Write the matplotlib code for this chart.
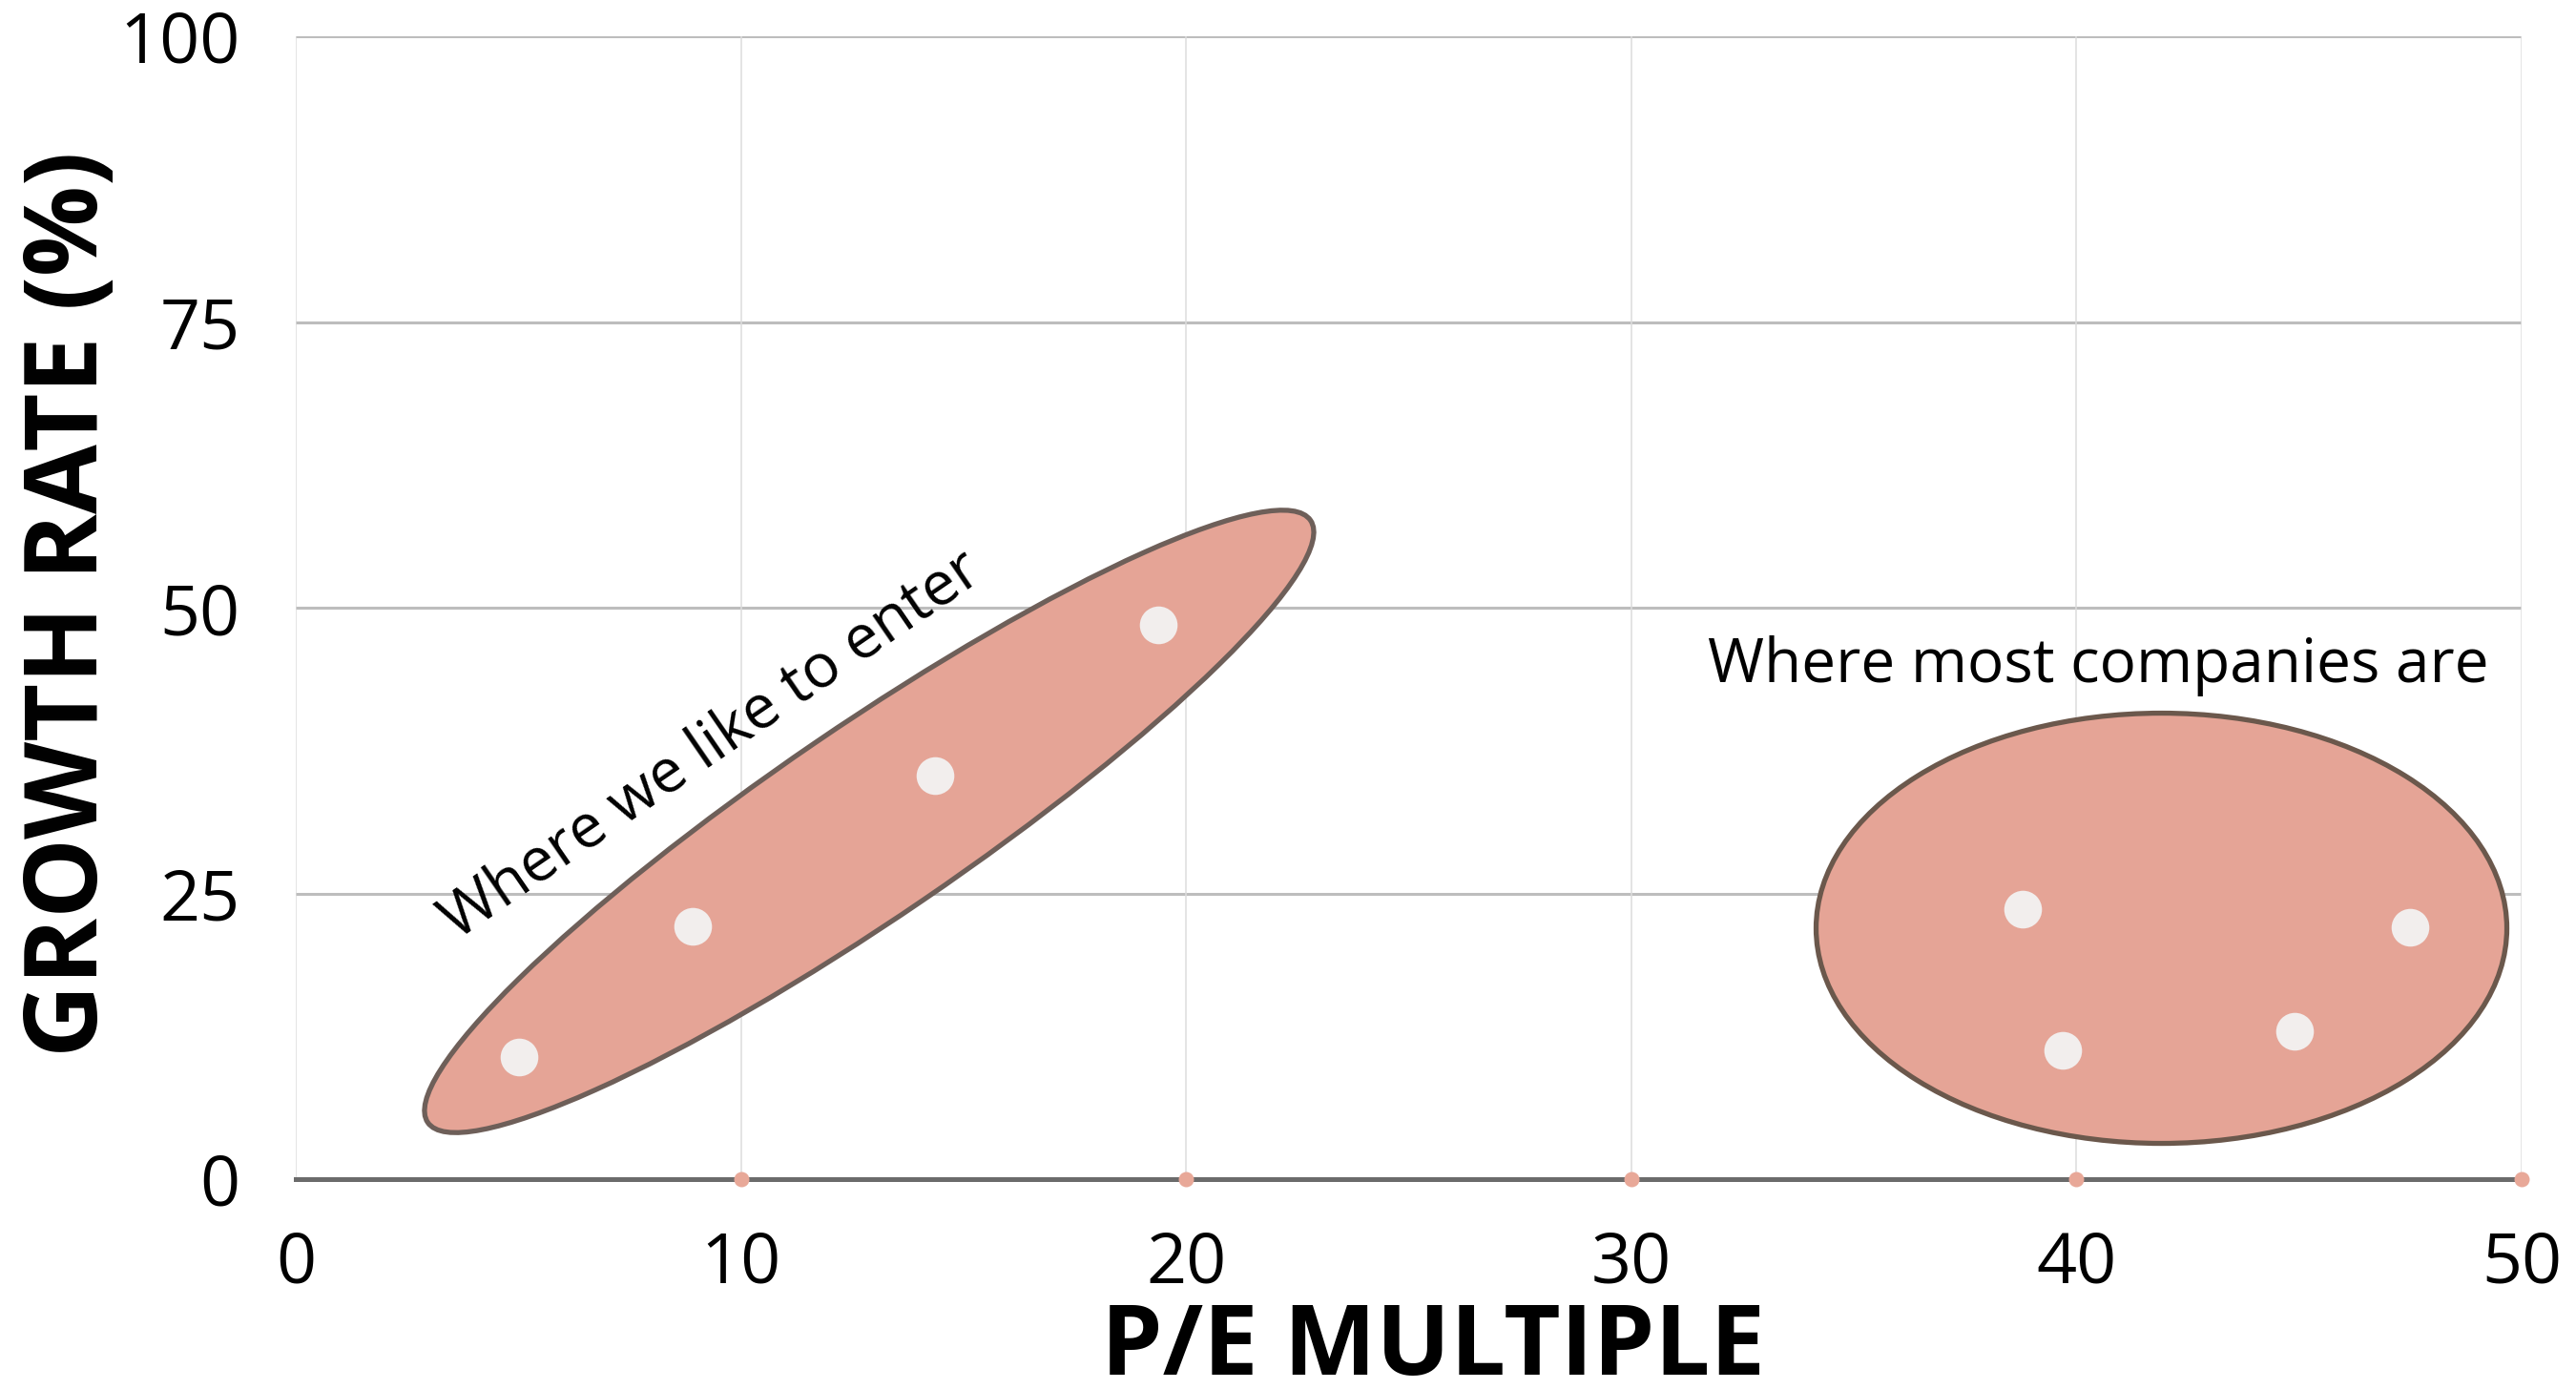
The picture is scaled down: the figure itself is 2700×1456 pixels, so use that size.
"""P/E multiple vs growth rate, with the two company clusters circled."""

import matplotlib
matplotlib.use("Agg")
import matplotlib.pyplot as plt
from matplotlib.patches import Ellipse
from matplotlib.transforms import ScaledTranslation

plt.rcParams['font.family'] = ['Open Sans', 'DejaVu Sans']

# companies we like to enter (low P/E, high growth)
enter_pe = [5.02, 8.92, 14.36, 19.37]
enter_growth = [10.7, 22.1, 35.3, 48.5]

# where most companies sit
most_pe = [38.8, 39.7, 44.9, 47.5]
most_growth = [23.6, 11.3, 12.9, 22.0]

x_ticks = [0, 10, 20, 30, 40, 50]
y_ticks = [0, 25, 50, 75, 100]
axis_dots = [10, 20, 30, 40, 50]

# cluster outlines: centre in data units
enter_centre = (12.88, 31.3)
most_centre = (41.91, 21.95)

FILL = "#e5a496"
DOT = "#f2eeed"

fig = plt.figure(figsize=(27, 14.56), dpi=100)
ax = fig.add_axes([310 / 2700, 1 - 1236 / 1456, 2333 / 2700, 1198 / 1456])

ax.set_xlim(0, 50)
ax.set_ylim(0, 100)
ax.set_xticks(x_ticks)
ax.set_yticks(y_ticks)

# grid: darker horizontal lines, faint vertical ones
for y in y_ticks[1:]:
    ax.axhline(y, color="#bdbdbd", lw=2.2, zorder=0)
for x in x_ticks:
    ax.axvline(x, color="#dcdcdc", lw=1.1, zorder=0)

for side in ["top", "right", "left"]:
    ax.spines[side].set_visible(False)
ax.spines["bottom"].set_color("#6b6b6b")
ax.spines["bottom"].set_linewidth(3.6)
ax.spines["bottom"].set_zorder(3)

ax.tick_params(axis="both", length=0, labelsize=53)
ax.tick_params(axis="x", pad=38)
ax.tick_params(axis="y", pad=42)

# the two ellipses, sized in inches so the tilt looks right on screen
e1 = Ellipse((0, 0), 11.2, 2.0, angle=34.3, facecolor=FILL, edgecolor="#6e5f59", lw=3.8,
             transform=fig.dpi_scale_trans + ScaledTranslation(*enter_centre, ax.transData), zorder=2)
e2 = Ellipse((0, 0), 7.24, 4.51, angle=0, facecolor=FILL, edgecolor="#6b584c", lw=3.8,
             transform=fig.dpi_scale_trans + ScaledTranslation(*most_centre, ax.transData), zorder=2)
ax.add_patch(e1)
ax.add_patch(e2)

ax.plot(enter_pe, enter_growth, "o", ms=28.5, color=DOT, mec="none", zorder=4)
ax.plot(most_pe, most_growth, "o", ms=28.5, color=DOT, mec="none", zorder=4)
ax.plot(axis_dots, [0] * len(axis_dots), "o", ms=11.5, color="#e8a898", mec="none",
        zorder=5, clip_on=False)

ax.text(9.55, 36.8, "Where we like to enter", fontsize=46, rotation=34.5,
        rotation_mode="anchor", ha="center", va="baseline", zorder=6)
ax.text(40.5, 43.5, "Where most companies are", fontsize=46,
        ha="center", va="baseline", zorder=6)

fig.text(1502 / 2700, 1 - 1415 / 1456, "P/E MULTIPLE", fontsize=74, fontweight="bold",
         ha="center", va="center")
fig.text(74 / 2700, 1 - 633 / 1456, "GROWTH RATE (%)", fontsize=76, fontweight="bold",
         rotation=90, ha="center", va="center")

fig.savefig("out.png", dpi=100, facecolor="white")
